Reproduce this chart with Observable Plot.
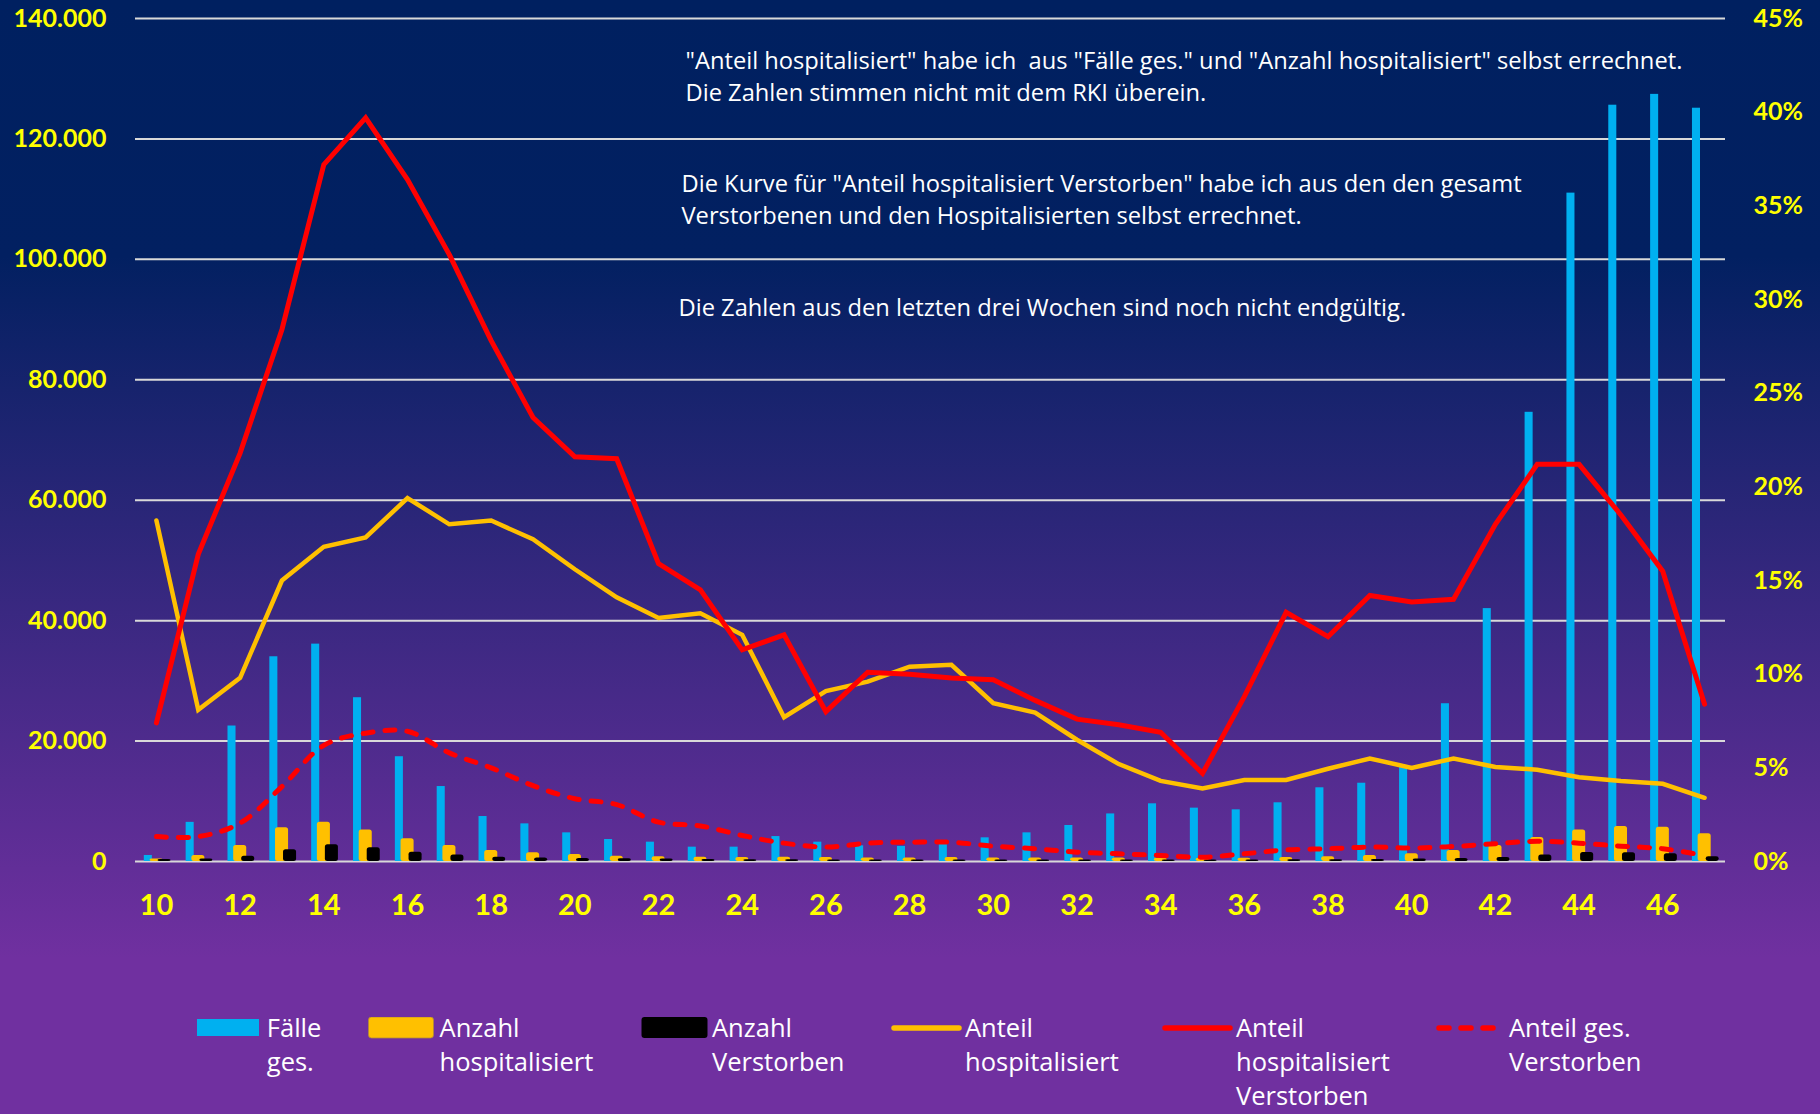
<!DOCTYPE html>
<html><head><meta charset="utf-8">
<script src="https://cdn.jsdelivr.net/npm/d3@7"></script>
<script src="https://cdn.jsdelivr.net/npm/@observablehq/plot@0.6"></script>
<style>
html,body{margin:0;padding:0;background:#7030A0;}
#wrap{position:relative;width:1820px;height:1114px;overflow:hidden;
  background:linear-gradient(to bottom,#002060 0%,#022061 23%,#7030A0 86%,#7030A0 100%);}
#chart svg{display:block;}
#legend{position:absolute;left:0;top:960px;width:1820px;height:154px;font-family:"Open Sans",sans-serif;color:#fff;}
.sw{position:absolute;}
.lt{position:absolute;font-size:25.5px;line-height:26px;height:26px;white-space:nowrap;}
</style></head>
<body><div id="wrap"><div id="chart"></div><div id="legend"></div></div>
<script>
// Kalenderwochen
const weeks = [10,11,12,13,14,15,16,17,18,19,20,21,22,23,24,25,26,27,28,29,30,31,32,33,34,35,36,37,38,39,40,41,42,43,44,45,46,47];
// Fälle ges.
const faelle = [1000,6500,22500,34000,36100,27200,17400,12450,7470,6250,4760,3650,3210,2380,2380,4140,3210,2600,2500,2900,3930,4760,5980,7900,9580,8860,8580,9750,12240,13000,15900,26200,42000,74600,111000,125600,127400,125100];
// Anzahl hospitalisiert
const hosp = [400,1000,2650,5600,6500,5250,3770,2650,1830,1440,1160,880,800,700,650,700,650,600,600,650,600,600,600,600,550,550,550,650,800,1000,1300,1830,2650,3990,5250,5800,5700,4600];
// Anzahl Verstorben
const verst = [350,400,880,1940,2770,2270,1550,1100,700,600,500,450,400,350,300,300,250,250,250,250,250,250,250,250,250,250,250,300,300,350,400,500,650,1100,1500,1450,1300,800];
// Anteil hospitalisiert (%)
const anteilHosp = [18.2,8.1,9.8,15.0,16.8,17.3,19.4,18.0,18.2,17.2,15.6,14.1,13.0,13.25,12.1,7.7,9.1,9.6,10.4,10.5,8.45,7.95,6.5,5.2,4.3,3.9,4.35,4.35,4.95,5.5,5.0,5.5,5.05,4.9,4.5,4.3,4.15,3.4];
// Anteil hospitalisiert Verstorben (%)
const anteilHospVerst = [7.4,16.4,21.8,28.4,37.2,39.7,36.4,32.4,27.8,23.7,21.6,21.5,15.9,14.5,11.3,12.1,8.0,10.1,10.0,9.8,9.7,8.6,7.6,7.3,6.9,4.7,8.8,13.3,12.0,14.2,13.85,14.0,18.0,21.2,21.2,18.5,15.5,8.4];
// Anteil ges. Verstorben (%)
const anteilGesVerst = [1.33,1.33,2.05,4.0,6.2,6.85,6.95,5.8,5.0,4.05,3.35,3.04,2.1,1.9,1.39,0.98,0.77,0.98,1.03,1.03,0.82,0.68,0.5,0.41,0.32,0.23,0.41,0.62,0.68,0.77,0.72,0.8,0.95,1.08,0.98,0.82,0.68,0.32];

// axis ticks
const leftTicks = [0,20000,40000,60000,80000,100000,120000,140000];
const pctTicks = [0,5,10,15,20,25,30,35,40,45];
const xTickLabels = [10,12,14,16,18,20,22,24,26,28,30,32,34,36,38,40,42,44,46];
const leftMax = 140000, rightMax = 45;

const notes = [
  "\"Anteil hospitalisiert\" habe ich  aus \"Fälle ges.\" und \"Anzahl hospitalisiert\" selbst errechnet.\nDie Zahlen stimmen nicht mit dem RKI überein.",
  "Die Kurve für \"Anteil hospitalisiert Verstorben\" habe ich aus den den gesamt\nVerstorbenen und den Hospitalisierten selbst errechnet.",
  "Die Zahlen aus den letzten drei Wochen sind noch nicht endgültig."
];

const seriesNames = ["Fälle\nges.","Anzahl\nhospitalisiert","Anzahl\nVerstorben","Anteil\nhospitalisiert","Anteil\nhospitalisiert\nVerstorben","Anteil ges.\nVerstorben"];

// right axis (percent) mapped onto the left scale
const K = leftMax / rightMax;
const data = weeks.map((w, i) => ({
  week: w, faelle: faelle[i], hosp: hosp[i], verst: verst[i],
  aH: anteilHosp[i] * K, aHV: anteilHospVerst[i] * K, aGV: anteilGesVerst[i] * K
}));
const fmtThousands = d => d3.format(",")(d).replace(/,/g, ".");

const axisText = {tickSize: 0, color: "#FFFF00", fontSize: 25, fontWeight: "bold", fontFamily: "Lato", label: null};
const noteStyle = {text: d => d, frameAnchor: "top-left", lineAnchor: "middle", textAnchor: "start", fill: "#ffffff", fontSize: 23.7, fontFamily: "Open Sans"};

const chart = Plot.plot({
  width: 1820, height: 960,
  marginTop: 18, marginLeft: 135, marginRight: 95, marginBottom: 99,
  style: {background: "transparent", fontFamily: "Lato", overflow: "visible"},
  x: {type: "band", domain: weeks, paddingInner: 0, paddingOuter: 0, axis: null},
  y: {domain: [0, leftMax], axis: null},
  marks: [
    Plot.ruleY(leftTicks, {stroke: "#d9d9d9", strokeWidth: 2}),
    Plot.barY(data, {x: "week", y: "faelle", fill: "#00B0F0", insetLeft: 8.8, insetRight: 25}),
    Plot.barY(data, {x: "week", y: "hosp", fill: "#FFC000", insetLeft: 14.5, insetRight: 14.3, rx: 2.5}),
    Plot.barY(data, {x: "week", y: "verst", fill: "#000000", insetLeft: 22.5, insetRight: 6.3, rx: 2.5}),
    Plot.line(data, {x: "week", y: "aH", stroke: "#FFC000", strokeWidth: 4.5, strokeLinejoin: "miter", strokeMiterlimit: 3}),
    Plot.line(data, {x: "week", y: "aHV", stroke: "#FF0000", strokeWidth: 5, strokeLinejoin: "miter", strokeMiterlimit: 3}),
    Plot.line(data, {x: "week", y: "aGV", stroke: "#FF0000", strokeWidth: 5, strokeDasharray: "10,12", strokeLinecap: "round", curve: "catmull-rom"}),
    Plot.axisY({...axisText, ticks: leftTicks, tickPadding: 29, tickFormat: fmtThousands}),
    Plot.axisY({...axisText, anchor: "right", ticks: pctTicks.map(p => p * K), tickPadding: 28, tickFormat: d => Math.round(d / K) + "%"}),
    Plot.axisX({...axisText, fontSize: 29, ticks: xTickLabels, tickPadding: 33}),
    Plot.text([notes[0]], {...noteStyle, dx: 550, dy: 56.5, lineHeight: 1.32}),
    Plot.text([notes[1]], {...noteStyle, dx: 546, dy: 179.5, lineHeight: 1.35}),
    Plot.text([notes[2]], {...noteStyle, dx: 543, dy: 290})
  ]
});
document.getElementById("chart").appendChild(chart);

// legend below the chart
const legendSwatches = [
  {x: 197, w: 62, svg: '<rect x="0" y="1" width="62" height="17" fill="#00B0F0"/>'},
  {x: 368, w: 66, svg: '<rect x="0.5" y="0" width="65" height="21" rx="3" fill="#FFC000" stroke="#b08a3a" stroke-width="0.8"/>'},
  {x: 641, w: 67, svg: '<rect x="0.5" y="0" width="66" height="21" rx="3" fill="#000000"/>'},
  {x: 891, w: 71, svg: '<line x1="3" x2="68" y1="11" y2="11" stroke="#FFC000" stroke-width="5.5" stroke-linecap="round"/>'},
  {x: 1162, w: 71, svg: '<line x1="3" x2="68" y1="11" y2="11" stroke="#FF0000" stroke-width="5.5" stroke-linecap="round"/>'},
  {x: 1436, w: 70, svg: '<line x1="3" x2="66" y1="11" y2="11" stroke="#FF0000" stroke-width="5.5" stroke-linecap="round" stroke-dasharray="10,12"/>'}
];
const legendTextX = [266.8, 439.6, 712, 965, 1236, 1509];
const legendLineTop = 53.7, legendLineStep = 34;
const legend = document.getElementById("legend");
seriesNames.forEach((name, i) => {
  const s = legendSwatches[i];
  const sw = document.createElement("div");
  sw.className = "sw";
  sw.style.left = s.x + "px";
  sw.style.top = (i === 0 ? 58 : 57) + "px";
  sw.innerHTML = `<svg width="${s.w}" height="22">${s.svg}</svg>`;
  legend.appendChild(sw);
  name.split("\n").forEach((line, j) => {
    const t = document.createElement("div");
    t.className = "lt";
    t.style.left = legendTextX[i] + "px";
    t.style.top = (legendLineTop + j * legendLineStep) + "px";
    t.textContent = line;
    legend.appendChild(t);
  });
});
</script>
</body></html>
